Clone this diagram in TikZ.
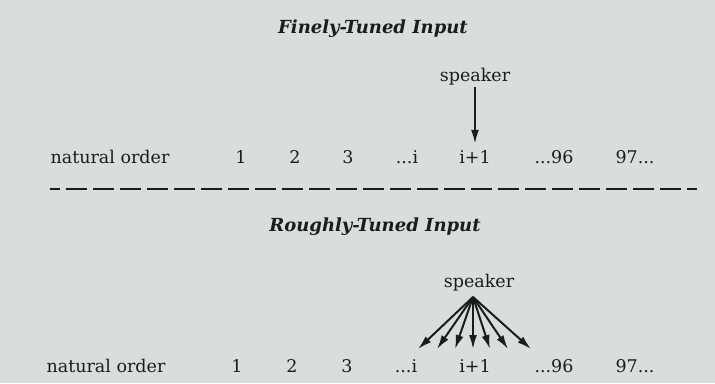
\documentclass[tikz,border=0pt]{standalone}
\usepackage{fontspec}
\setmainfont{DejaVu Serif}
\usepackage{xcolor}
\usetikzlibrary{arrows.meta}

\definecolor{paper}{RGB}{216,222,220}
\definecolor{ink}{RGB}{28,28,28}

\begin{document}
\begin{tikzpicture}[
  x=1pt, y=-1pt,
  lbl/.style  = {text=ink, inner sep=0pt, anchor=base,
                 font=\fontsize{17.5}{20}\selectfont},
  ttl/.style  = {text=ink, inner sep=0pt, anchor=base,
                 font=\fontsize{18}{21}\selectfont\bfseries\itshape},
  arr/.style  = {-{Latex[length=14pt,width=8pt]}, line width=2pt, draw=ink},
  dsh/.style  = {draw=ink, line width=2.8pt,
                 dash pattern=on 21pt off 6pt, dash phase=11pt}
]
%% Paper
\fill[paper] (0,0) rectangle (715,383);
%% Finely-tuned input
\node[ttl] (ttlA) at (373,33) {Finely-Tuned Input};
\node[lbl] (spkA) at (475,81) {speaker};
\node[lbl] (natA) at (110,163) {natural order};
\foreach \nm/\x/\lb in {a1/241/1, a2/295/2, a3/348/3, ai/407/{...i},
                        aj/475/{i+1}, a96/554/{...96}, a97/635/{97...}}{
  \node[lbl] (\nm) at (\x,163) {\lb};}
\draw[arr, shorten <=2pt, shorten >=6pt] (spkA.south -| aj) -- (aj.north);
%% Divider
\coordinate (dl) at (50,189);
\coordinate (dr) at (697,189);
\draw[dsh] (dl) -- (dr);
%% Roughly-tuned input
\node[ttl] (ttlB) at (375,231) {Roughly-Tuned Input};
\node[lbl] (spkB) at (479,287) {speaker};
\node[lbl] (natB) at (106,372) {natural order};
\foreach \nm/\x/\lb in {b1/237/1, b2/292/2, b3/347/3, bi/406/{...i},
                        bj/475/{i+1}, b96/554/{...96}, b97/635/{97...}}{
  \node[lbl] (\nm) at (\x,372) {\lb};}
%% Fan of arrows
\coordinate (apx) at (473,297);
\foreach \i/\x in {1/418, 2/437, 3/455, 4/473, 5/490, 6/508, 7/531}{
  \coordinate (tp\i) at (\x,349);
  \draw[arr] (apx) -- (tp\i);}
\end{tikzpicture}
\end{document}
